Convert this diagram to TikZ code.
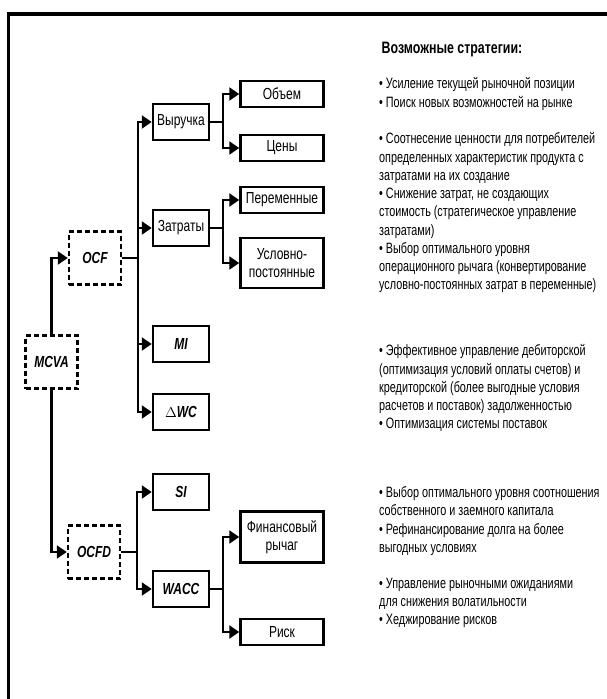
\documentclass[tikz,border=0pt]{standalone}
\usepackage{fontspec}
\setmainfont{Liberation Sans}[FakeStretch=0.75]
\newfontfamily\stratfont{Liberation Sans}[FakeStretch=0.72]
\usetikzlibrary{arrows.meta,positioning}

\tikzset{
  box/.style={draw, line width=2.5pt, minimum width=56pt, minimum height=36pt,
    inner sep=1pt, align=center, font=\fontsize{16}{17.5}\selectfont},
  subbox/.style={box, minimum width=83pt, minimum height=26pt},
  keybox/.style={box, dash pattern=on 5pt off 3pt, minimum width=52pt,
    minimum height=53pt, font=\fontsize{16}{17.5}\selectfont\bfseries\itshape},
  varbox/.style={box, font=\fontsize{16}{17.5}\selectfont\bfseries\itshape},
  link/.style={->, line width=2.2pt},
  strat/.style={anchor=north west, align=left, inner sep=0pt,
    font=\stratfont\fontsize{15}{18.25}\selectfont}
}

\begin{document}
\begin{tikzpicture}[x=1pt, y=-1pt, >={Triangle[length=10pt,width=13pt]}]
        \useasboundingbox (0,0) rectangle (607,699);
        % frame
        \draw[line width=3.5pt] (8.5,699) -- (8.5,14) -- (607,14);

        % key boxes
        \node[keybox] (mcva) at (51.5,362) {MCVA};
        \node[keybox] (ocf) at (95,258) {OCF};
        \node[keybox] (ocfd) at (94,552) {OCFD};

        % first level
        \node[box] (rev) at (181,122) {Выручка};
        \node[box] (cost) at (181,228) {Затраты};
        \node[varbox] (mi) at (181,344) {MI};
        \node[varbox] (dwc) at (181,412) {{\normalfont\fontsize{14}{16}\selectfont$\Delta$}WC};
        \node[varbox] (si) at (181,492) {SI};
        \node[varbox] (wacc) at (181,589) {WACC};

        % second level
        \node[subbox] (vol) at (282,94) {Объем};
        \node[subbox] (price) at (282,148) {Цены};
        \node[subbox] (var) at (282,200) {Переменные};
        \node[subbox, minimum height=50pt] (fix) at (282,263) {Условно-\\постоянные};
        \node[subbox, minimum height=51pt] (fin) at (282,537) {Финансовый\\рычаг};
        \node[subbox] (risk) at (282,632) {Риск};

        % connectors
        \draw[link] (mcva.north) |- (ocf.west);
        \draw[link] (mcva.south) |- (ocfd.west);
        \foreach \t in {rev,cost,mi,dwc}
            \draw[link] (ocf.east) -- ++(16,0) |- (\t.west);
        \foreach \t in {si,wacc}
            \draw[link] (ocfd.east) -- ++(16,0) |- (\t.west);
        \foreach \t in {vol,price}
            \draw[link] (rev.east) -- ++(13,0) |- (\t.west);
        \foreach \t in {var,fix}
            \draw[link] (cost.east) -- ++(13,0) |- (\t.west);
        \foreach \t in {fin,risk}
            \draw[link] (wacc.east) -- ++(13,0) |- (\t.west);

        % strategies
        \node[font=\fontsize{16.5}{18}\selectfont\bfseries] (title) at (452,50) {Возможные стратегии:};
        \node[strat] (s1) at (379,77.5) {• Усиление текущей рыночной позиции\\
            • Поиск новых возможностей на рынке};
        \node[strat] (s2) at (379,132.5) {• Соотнесение ценности для потребителей\\
            определенных характеристик продукта с\\
            затратами на их создание\\
            • Снижение затрат, не создающих\\
            стоимость (стратегическое управление\\
            затратами)\\
            • Выбор оптимального уровня\\
            операционного рычага (конвертирование\\
            условно-постоянных затрат в переменные)};
        \node[strat] (s3) at (379,344.5) {• Эффективное управление дебиторской\\
            (оптимизация условий оплаты счетов) и\\
            кредиторской (более выгодные условия\\
            расчетов и поставок) задолженностью\\
            • Оптимизация системы поставок};
        \node[strat] (s4) at (379,486.5) {• Выбор оптимального уровня соотношения\\
            собственного и заемного капитала\\
            • Рефинансирование долга на более\\
            выгодных условиях};
        \node[strat] (s5) at (379,577.5) {• Управление рыночными ожиданиями\\
            для снижения волатильности\\
            • Хеджирование рисков};
    \end{tikzpicture}
\end{document}
